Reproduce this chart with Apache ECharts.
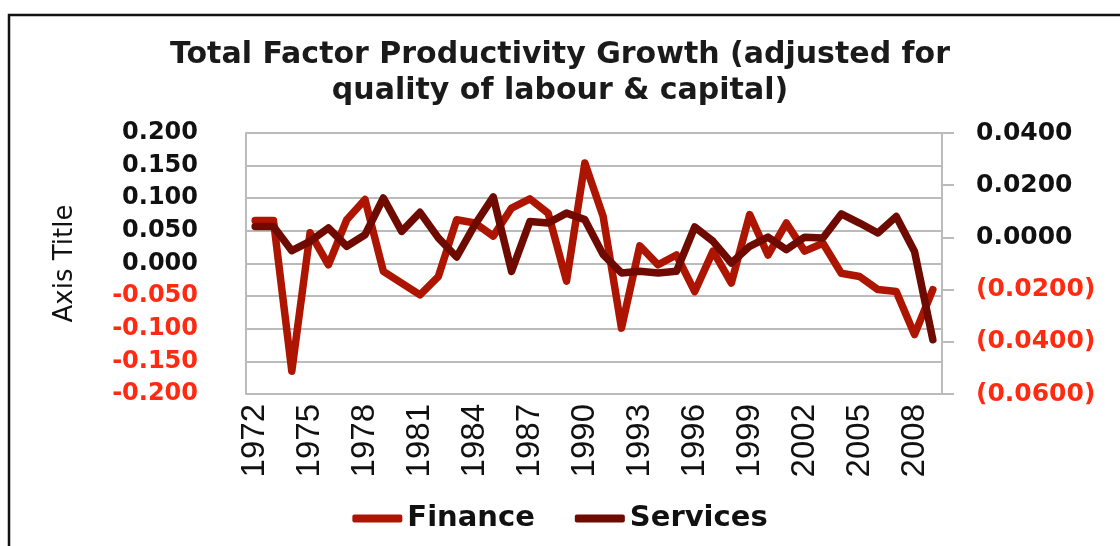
<!DOCTYPE html>
<html>
<head>
<meta charset="utf-8">
<script src="https://cdn.jsdelivr.net/npm/echarts@6/dist/echarts.min.js"></script>
<style>
  html, body { margin: 0; padding: 0; background: #fff; }
  #chart { width: 1120px; height: 546px; }
</style>
</head>
<body>
<div id="chart"></div>
<script>
const years = []
for (let y = 1972; y <= 2009; y++) years.push(String(y))

// left axis
const finance = [
  0.066, 0.066, -0.165, 0.047, -0.002, 0.067, 0.098, -0.012, -0.030, -0.048,
  -0.020, 0.067, 0.062, 0.042, 0.085, 0.099, 0.077, -0.027, 0.154, 0.072,
  -0.099, 0.027, -0.002, 0.013, -0.043, 0.019, -0.030, 0.075, 0.013, 0.062,
  0.019, 0.031, -0.015, -0.020, -0.040, -0.043, -0.109, -0.040
]

// right axis
const services = [
  0.0042, 0.0042, -0.0051, -0.0015, 0.0036, -0.0034, 0.0010, 0.0151, 0.0023, 0.0096,
  -0.0002, -0.0075, 0.0049, 0.0155, -0.0130, 0.0061, 0.0055, 0.0093, 0.0068, -0.0066,
  -0.0136, -0.0130, -0.0136, -0.0130, 0.0040, -0.0015, -0.0098, -0.0034, 0.0001, -0.0047,
  0.0001, -0.0002, 0.0090, 0.0055, 0.0017, 0.0080, -0.0054, -0.0392
]

const chart = echarts.init(document.getElementById('chart'))

const option = {
  animation: false,
  backgroundColor: '#fff',
  title: {
    text: 'Total Factor Productivity Growth (adjusted for\nquality of labour & capital)',
    left: 'center',
    top: 32,
    textStyle: {
      fontFamily: 'DejaVu Sans',
      fontWeight: 'bold',
      fontSize: 30,
      lineHeight: 36,
      color: '#1a1a1a'
    }
  },
  graphic: [
    {
      type: 'rect',
      shape: { x: 9, y: 15, width: 1200, height: 600 },
      style: { fill: 'none', stroke: '#111', lineWidth: 2.5 }
    }
  ],
  legend: {
    bottom: 8,
    left: 'center',
    itemWidth: 50,
    itemHeight: 8,
    itemGap: 40,
    textStyle: {
      fontFamily: 'DejaVu Sans',
      fontWeight: 'bold',
      fontSize: 29,
      color: '#111'
    },
    data: [
      { name: 'Finance', icon: 'roundRect' },
      { name: 'Services', icon: 'roundRect' }
    ]
  },
  grid: {
    left: 246,
    right: 178,
    top: 133,
    bottom: 152
  },
  xAxis: {
    type: 'category',
    data: years,
    boundaryGap: true,
    axisLine: { lineStyle: { color: '#bbb', width: 2 } },
    axisTick: { show: false },
    axisLabel: {
      interval: 2,
      rotate: 90,
      margin: 10,
      color: '#111',
      fontFamily: 'Liberation Sans',
      fontSize: 33
    }
  },
  yAxis: [
    {
      type: 'value',
      min: -0.2,
      max: 0.2,
      interval: 0.05,
      name: 'Axis Title',
      nameLocation: 'middle',
      nameGap: 168,
      nameRotate: 90,
      nameTextStyle: {
        fontFamily: 'DejaVu Sans',
        fontSize: 26,
        color: '#111'
      },
      axisLine: { show: true, lineStyle: { color: '#bbb', width: 2 } },
      axisTick: { show: false },
      splitLine: { lineStyle: { color: '#bbb', width: 2 } },
      axisLabel: {
        margin: 48,
        fontFamily: 'DejaVu Sans',
        fontWeight: 'bold',
        fontSize: 24,
        formatter: v => v.toFixed(3),
        color: v => (Number(v) < 0 ? '#ff2a10' : '#111')
      }
    },
    {
      type: 'value',
      min: -0.06,
      max: 0.04,
      interval: 0.02,
      position: 'right',
      axisLine: { show: true, lineStyle: { color: '#bbb', width: 2 } },
      axisTick: { show: true, length: 12, lineStyle: { color: '#bbb', width: 2 } },
      splitLine: { show: false },
      axisLabel: {
        margin: 34,
        fontFamily: 'DejaVu Sans',
        fontWeight: 'bold',
        fontSize: 25,
        formatter: v => (v < 0 ? '(' + Math.abs(v).toFixed(4) + ')' : Math.abs(v).toFixed(4)),
        color: v => (Number(v) < 0 ? '#ff2a10' : '#111')
      }
    }
  ],
  series: [
    {
      name: 'Finance',
      type: 'line',
      yAxisIndex: 0,
      data: finance,
      symbol: 'none',
      itemStyle: { color: '#ad1500' },
      lineStyle: { color: '#ad1500', width: 7.5, join: 'round', cap: 'round' }
    },
    {
      name: 'Services',
      type: 'line',
      yAxisIndex: 1,
      data: services,
      symbol: 'none',
      itemStyle: { color: '#6e0a00' },
      lineStyle: { color: '#6e0a00', width: 7.5, join: 'round', cap: 'round' }
    }
  ]
}

chart.setOption(option)
</script>
</body>
</html>
